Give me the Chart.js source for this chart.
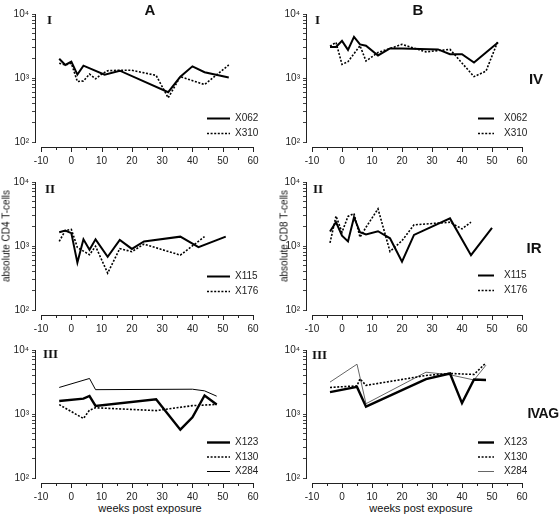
<!DOCTYPE html>
<html>
<head>
<meta charset="utf-8">
<script src="https://cdn.jsdelivr.net/npm/chart.js@4.4.0/dist/chart.umd.min.js"></script>
<style>
body{margin:0;background:#fff;}
#wrap{position:relative;width:560px;height:515px;font-family:"Liberation Sans",Arial,sans-serif;color:#111;overflow:hidden;}
#wrap canvas{position:absolute;}
.t{position:absolute;transform:translate(-50%,-50%);white-space:nowrap;}
.big{font-weight:bold;font-size:15px;}
.rom{font-family:"Liberation Serif","Times New Roman",serif;font-weight:bold;font-size:13px;transform:none;}
.ytl{font-size:10px;transform:translate(-50%,-50%) rotate(-90deg);}
.xt{font-size:11px;}
</style>
</head>
<body>
<div id="wrap">
  <canvas id="a1" width="280" height="165" style="left:0;top:0"></canvas>
  <canvas id="b1" width="280" height="165" style="left:280px;top:0"></canvas>
  <canvas id="a2" width="280" height="165" style="left:0;top:168px"></canvas>
  <canvas id="b2" width="280" height="165" style="left:280px;top:168px"></canvas>
  <canvas id="a3" width="280" height="165" style="left:0;top:336px"></canvas>
  <canvas id="b3" width="280" height="165" style="left:280px;top:336px"></canvas>

  <div class="t big" style="left:150px;top:9px">A</div>
  <div class="t big" style="left:418px;top:9px">B</div>
  <div class="t big" style="left:536px;top:78px">IV</div>
  <div class="t big" style="left:534px;top:247px">IR</div>
  <div class="t big" style="left:543px;top:413px;font-size:14px;letter-spacing:-0.5px">IVAG</div>

  <div class="t rom" style="left:47px;top:12px">I</div>
  <div class="t rom" style="left:315px;top:12px">I</div>
  <div class="t rom" style="left:45px;top:181px">II</div>
  <div class="t rom" style="left:313px;top:181px">II</div>
  <div class="t rom" style="left:43px;top:346px">III</div>
  <div class="t rom" style="left:312px;top:347px">III</div>

  <div class="t ytl" style="left:6px;top:236px">absolute CD4 T-cells</div>
  <div class="t ytl" style="left:284px;top:236px">absolute CD8 T-cells</div>
  <div class="t xt" style="left:150px;top:508px">weeks post exposure</div>
  <div class="t xt" style="left:421px;top:508px">weeks post exposure</div>
</div>
<script>
// axis ticks
const xTicks = [-10,-5,0,5,10,15,20,25,30,35,40,45,50,55,60];
const yTicks = [100,200,300,400,500,600,700,800,900,1000,2000,3000,4000,5000,6000,7000,8000,9000,10000];
const yTickLabels = {100:'10²', 1000:'10³', 10000:'10⁴'};

// group I (IV) - CD4
const a1_X062_weeks = [-4,-2,0,2,4,11,16,32,36,40,44,52];
const a1_X062 = [2000,1600,1800,1130,1560,1130,1300,600,1050,1520,1230,1020];
const a1_X310_weeks = [-4,-2,0,2,4,6,8,10,12,16,20,28,32,36,44,52];
const a1_X310 = [1700,1600,1700,880,900,1150,970,1150,1300,1320,1320,1100,490,1050,790,1600];
// group I (IV) - CD8
const b1_X062_weeks = [-4,-2,0,2,4,6,8,12,16,20,32,36,40,44,48,52];
const b1_X062 = [3050,3050,3800,2750,4400,3350,3200,2250,2900,2900,2800,2350,2350,1740,2500,3600];
const b1_X310_weeks = [-4,-2,0,2,6,8,12,16,20,28,36,44,48,52];
const b1_X310 = [3150,3600,1630,1800,3200,1840,2500,2900,3350,2560,2800,1050,1280,3800];

// group II (IR) - CD4
const a2_X115_weeks = [-4,-2,0,2,4,6,8,12,16,20,24,36,42,51];
const a2_X115 = [1640,1740,1590,550,1270,870,1270,680,1240,900,1180,1400,960,1400];
const a2_X176_weeks = [-4,-2,0,2,6,8,12,16,20,24,36,44];
const a2_X176 = [1180,1740,1820,950,730,990,377,910,815,1070,720,1400];
// group II (IR) - CD8
const b2_X115_weeks = [-4,-2,0,2,4,6,8,12,16,20,24,36,43,50];
const b2_X115 = [1680,2360,1450,1180,2820,1640,1510,1700,1320,570,1490,2700,720,1920];
const b2_X176_weeks = [-4,-2,0,2,4,6,8,12,16,20,24,36,40,43];
const b2_X176 = [1120,2940,1640,2900,3220,1370,1960,3810,820,1210,2140,2350,1850,2360];

// group III (IVAG) - CD4
const a3_X123_weeks = [-4,4,6,8,28,36,40,44,48];
const a3_X123 = [1600,1740,1910,1340,1700,570,890,1950,1410];
const a3_X130_weeks = [-4,4,6,8,28,40,48];
const a3_X130 = [1400,850,1150,1250,1130,1350,1410];
const a3_X284_weeks = [-4,6,8,40,44,48];
const a3_X284 = [2600,3590,2400,2440,2300,1900];
// group III (IVAG) - CD8
const b3_X123_weeks = [-4,5,8,28,36,40,44,48];
const b3_X123 = [2200,2650,1300,3500,4300,1480,3450,3400];
const b3_X130_weeks = [-4,5,6,8,28,36,44,48];
const b3_X130 = [2600,2750,3550,2800,4000,4300,4150,6300];
const b3_X284_weeks = [-4,5,8,28,36,44,48];
const b3_X284 = [3150,6000,1450,4500,4100,3400,5800];

function pts(w, v){ return w.map((x,i)=>({x:x, y:v[i]})); }

const thick = {borderWidth:2, borderDash:[], borderColor:'#000'};
const dotted = {borderWidth:1.6, borderDash:[2,1.6], borderColor:'#000'};
const thin = {borderWidth:1, borderDash:[], borderColor:'#000'};

// x axis sits a bit below the plot and starts at -10
const detachedX = {
  id:'detachedX',
  afterDraw(chart){
    const c = chart.ctx, xs = chart.scales.x;
    const b = chart.chartArea.bottom + 5;
    c.save();
    c.strokeStyle = '#222'; c.lineWidth = 1;
    c.beginPath();
    c.moveTo(xs.getPixelForValue(-10), b + 0.5);
    c.lineTo(xs.getPixelForValue(60), b + 0.5);
    xs.ticks.forEach(t=>{
      const p = Math.round(xs.getPixelForValue(t.value)) + 0.5;
      c.moveTo(p, b); c.lineTo(p, b + (t.value % 10 === 0 ? 5 : 3));
    });
    c.stroke();
    c.restore();
  }
};

const inLegend = {
  id:'inLegend',
  afterDraw(chart, args, o){
    const c = chart.ctx;
    c.save();
    chart.data.datasets.forEach((ds,i)=>{
      const y = o.y + i*o.gap + 0.5;
      c.strokeStyle = ds.borderColor; c.lineWidth = ds.borderWidth;
      c.setLineDash(ds.borderDash || []);
      c.beginPath(); c.moveTo(o.x, y); c.lineTo(o.x + o.len, y); c.stroke();
      c.setLineDash([]);
      c.fillStyle = '#222'; c.font = '10px "Liberation Sans", Arial, sans-serif';
      c.textBaseline = 'middle';
      c.fillText(ds.label, o.x + o.len + o.tx, y);
    });
    c.restore();
  }
};

function panel(id, axisX, right, legend, series){
  new Chart(document.getElementById(id), {
    type:'scatter',
    data:{datasets: series.map(s=>Object.assign({
      label:s.label, data:pts(s.w, s.v), showLine:true, pointRadius:0, tension:0, fill:false
    }, s.style))},
    options:{
      responsive:false, animation:false, devicePixelRatio:1,
      layout:{padding:{left:0, top:14, right:280-right, bottom:0}},
      plugins:{legend:{display:false}, tooltip:{enabled:false}, inLegend:legend},
      scales:{
        x:{type:'linear', min:-12, max:60,
          grid:{display:false, drawTicks:false}, border:{display:false},
          afterBuildTicks(s){ s.ticks = xTicks.map(v=>({value:v})); },
          afterFit(s){ s.height = 23; },
          ticks:{autoSkip:false, maxRotation:0, padding:13, color:'#222',
            font:{family:'"Liberation Sans", Arial, sans-serif', size:10},
            callback:v=> v % 10 === 0 ? String(v) : ''}
        },
        y:{type:'logarithmic', min:100, max:10000,
          grid:{drawOnChartArea:false, tickLength:3, color:'#444'},
          border:{display:true, color:'#222', width:1},
          afterBuildTicks(s){ s.ticks = yTicks.map(v=>({value:v})); },
          afterFit(s){ s.width = axisX; },
          ticks:{autoSkip:false, padding:3, color:'#222',
            font:{family:'"Liberation Sans", Arial, sans-serif', size:10},
            callback:v=> yTickLabels[v] || ''}
        }
      }
    },
    plugins:[detachedX, inLegend]
  });
}

const legA = (y)=>({x:207, y:y, gap:15, len:23, tx:5});
const legB = (y)=>({x:198, y:y, gap:15, len:16, tx:10});

panel('a1', 35, 253, legA(118), [
  {label:'X062', w:a1_X062_weeks, v:a1_X062, style:thick},
  {label:'X310', w:a1_X310_weeks, v:a1_X310, style:dotted}]);
panel('b1', 26, 242, legB(118), [
  {label:'X062', w:b1_X062_weeks, v:b1_X062, style:thick},
  {label:'X310', w:b1_X310_weeks, v:b1_X310, style:dotted}]);
panel('a2', 35, 253, legA(108), [
  {label:'X115', w:a2_X115_weeks, v:a2_X115, style:thick},
  {label:'X176', w:a2_X176_weeks, v:a2_X176, style:dotted}]);
panel('b2', 26, 242, legB(107), [
  {label:'X115', w:b2_X115_weeks, v:b2_X115, style:thick},
  {label:'X176', w:b2_X176_weeks, v:b2_X176, style:dotted}]);
panel('a3', 35, 253, Object.assign(legA(106), {gap:14.5}), [
  {label:'X123', w:a3_X123_weeks, v:a3_X123, style:Object.assign({}, thick, {borderWidth:2.4})},
  {label:'X130', w:a3_X130_weeks, v:a3_X130, style:dotted},
  {label:'X284', w:a3_X284_weeks, v:a3_X284, style:thin}]);
panel('b3', 26, 242, Object.assign(legB(106), {gap:14.5}), [
  {label:'X123', w:b3_X123_weeks, v:b3_X123, style:Object.assign({}, thick, {borderWidth:2.4})},
  {label:'X130', w:b3_X130_weeks, v:b3_X130, style:dotted},
  {label:'X284', w:b3_X284_weeks, v:b3_X284, style:Object.assign({}, thin, {borderColor:'#666'})}]);
</script>
</body>
</html>
